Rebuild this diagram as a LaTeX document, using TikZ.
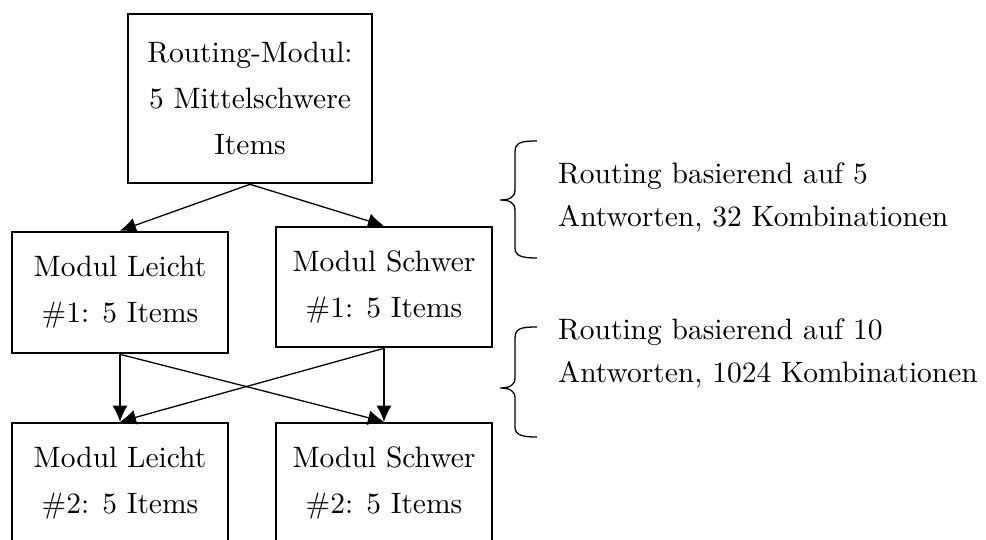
\documentclass[tikz,border=0pt]{standalone}
\usepackage{fontspec}
\newfontfamily\lmten{lmroman10-regular}[Extension=.otf]
\usetikzlibrary{arrows.meta}
\begin{document}
\begin{tikzpicture}[x=1pt,y=-1pt,
  modbox/.style={draw, line width=2.6pt, rectangle, inner sep=0pt, align=center,
    font=\lmten\fontsize{29.5}{46}\selectfont},
  conn/.style={line width=1.3pt, -{Latex[length=16pt,width=15pt]}},
  sidetext/.style={anchor=west, inner sep=0pt, align=left,
    font=\lmten\fontsize{29.5}{43}\selectfont},
  bracepath/.style={line width=1.3pt}]
\useasboundingbox (0,0) rectangle (986,539);
\clip (0,0) rectangle (986,539);
\node[modbox, minimum width=244pt, minimum height=169pt] (top) at (250,98.5)
  {Routing-Modul:\\5 Mittelschwere\\Items};
\node[modbox, minimum width=216pt, minimum height=121pt] (l1) at (120,292.5)
  {Modul Leicht\\\#1: 5 Items};
\node[modbox, minimum width=216pt, minimum height=120pt] (r1) at (384,287)
  {Modul Schwer\\\#1: 5 Items};
\node[modbox, minimum width=216pt, minimum height=120pt] (l2) at (120,483)
  {Modul Leicht\\\#2: 5 Items};
\node[modbox, minimum width=216pt, minimum height=120pt] (r2) at (384,483)
  {Modul Schwer\\\#2: 5 Items};
\draw[conn] (top.south) -- (l1.north);
\draw[conn] (top.south) -- (r1.north);
\draw[conn] (l1.south) -- (l2.north);
\draw[conn] (l1.south) -- (r2.north);
\draw[conn] (r1.south) -- (l2.north);
\draw[conn] (r1.south) -- (r2.north);
\draw[bracepath] (537,141) .. controls (522,141) and (515,142) .. (515,152) -- (515,190)
  .. controls (515,197) and (510,200) .. (500,200)
  .. controls (510,200) and (515,203) .. (515,210) -- (515,248)
  .. controls (515,256) and (522,258) .. (537,258);
\draw[bracepath] (537,327) .. controls (522,327) and (515,328) .. (515,338) -- (515,378)
  .. controls (515,385) and (510,388) .. (500,388)
  .. controls (510,388) and (515,391) .. (515,398) -- (515,427)
  .. controls (515,435) and (522,437) .. (537,437);
\node[sidetext] (t1) at (558,197) {Routing basierend auf 5\\Antworten, 32 Kombinationen};
\node[sidetext] (t2) at (558,353) {Routing basierend auf 10\\Antworten, 1024 Kombinationen};
\end{tikzpicture}
\end{document}
